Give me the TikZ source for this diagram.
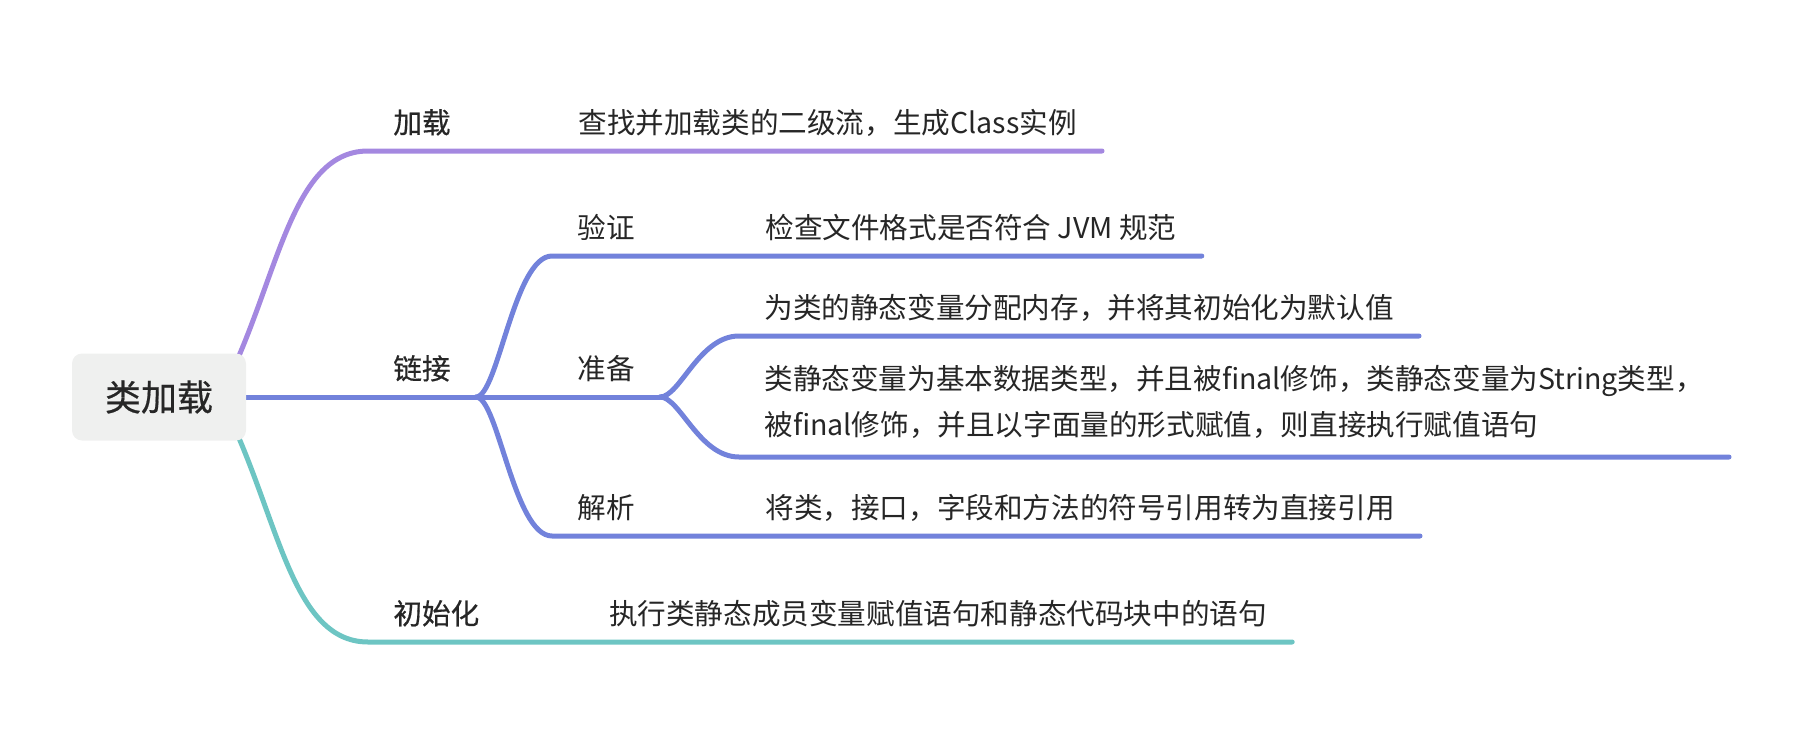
\documentclass[tikz,border=0pt]{standalone}
\usepackage{fontspec}
\setmainfont{Noto Sans CJK SC}
\newfontfamily\cjkmed[FakeBold=0.5]{Noto Sans CJK SC}
\usetikzlibrary{positioning, calc, backgrounds}
\definecolor{txtgray}{RGB}{38,38,38}
\definecolor{rootfill}{RGB}{239,240,239}
\definecolor{lnpurple}{RGB}{164,136,224}
\definecolor{lnblue}{RGB}{114,130,219}
\definecolor{lnteal}{RGB}{109,197,195}
\tikzset{
  root/.style = {rectangle, rounded corners=5pt, fill=rootfill, text=txtgray,
                 minimum width=87pt, minimum height=43.5pt, inner sep=0pt,
                 font=\cjkmed\fontsize{18}{22}\selectfont},
  label/.style = {anchor=south west, inner xsep=12.5pt, text=txtgray,
                  font=\fontsize{14.3}{23}\selectfont},
  topic/.style = {label, inner ysep=6.7pt, text height=0.8em, text depth=0.2em},
  maintopic/.style = {topic, font=\cjkmed\fontsize{14.3}{23}\selectfont},
  branch/.style = {line width=2.5pt, line cap=round}
}
\begin{document}
\begin{tikzpicture}[x=0.5pt, y=-0.5pt]
  \useasboundingbox (0,0) rectangle (1810,744);
  \node [root] (root) at (159,397) {类加载};

  \node [maintopic] (jz) at (368,151) {加载};
  \node [maintopic] (lj) at (368,397) {链接};
  \node [maintopic] (csh) at (368,642) {初始化};

  \node [topic] (yz) at (552,256) {验证};
  \node [topic] (zb) at (552,397) {准备};
  \node [topic] (jx) at (552,536) {解析};

  \node [topic, right=38.5pt of jz] (jzd) {查找并加载类的二级流，生成Class实例};
  \node [topic, right=39.5pt of csh] (cshd) {执行类静态成员变量赋值语句和静态代码块中的语句};
  \node [topic, right=40pt of yz] (yzd) {检查文件格式是否符合 JVM 规范};
  \node [topic, right=40pt of jx] (jxd) {将类，接口，字段和方法的符号引用转为直接引用};
  \node [topic] (zb1) at (739,336) {为类的静态变量分配内存，并将其初始化为默认值};
  \node [label, align=left, inner ysep=9pt] (zb2) at (739,457)
        {类静态变量为基本数据类型，并且被final修饰，类静态变量为String类型，\\
         被final修饰，并且以字面量的形式赋值，则直接执行赋值语句};

  \begin{pgfonlayer}{background}
    \draw [branch, lnpurple] ($(root.east)+(-27,0)$) .. controls +(58,-108) and +(-80,0) .. (jz.south west) -- (jzd.south east);
    \draw [branch, lnteal] ($(root.east)+(-27,0)$) .. controls +(58,108) and +(-80,0) .. (csh.south west) -- (cshd.south east);
    \draw [branch, lnblue] (root.east) -- (lj.south east);
  \end{pgfonlayer}

  \draw [branch, lnblue] (lj.south east) .. controls +(22,0) and +(-38,0) .. (yz.south west) -- (yzd.south east);
  \draw [branch, lnblue] (lj.south east) -- (zb.south east);
  \draw [branch, lnblue] (lj.south east) .. controls +(22,0) and +(-38,0) .. (jx.south west) -- (jxd.south east);
  \draw [branch, lnblue] (zb.south east) .. controls +(20,0) and +(-40,0) .. (zb1.south west) -- (zb1.south east);
  \draw [branch, lnblue] (zb.south east) .. controls +(20,0) and +(-40,0) .. (zb2.south west) -- (zb2.south east);
\end{tikzpicture}
\end{document}
